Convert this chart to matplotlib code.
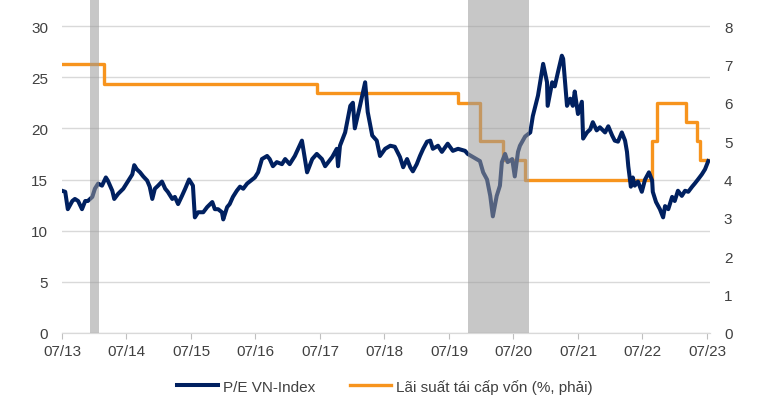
import matplotlib
matplotlib.use("Agg")
import matplotlib.pyplot as plt
from matplotlib.lines import Line2D

plt.rcParams['font.family'] = ['Liberation Sans', 'DejaVu Sans']

# P/E VN-Index, time as decimal year
pe_t = [2013.50, 2013.55, 2013.59, 2013.66, 2013.70, 2013.75, 2013.81, 2013.86, 2013.90, 2013.97,
        2014.01, 2014.06, 2014.12, 2014.18, 2014.21, 2014.28, 2014.31, 2014.37, 2014.45, 2014.52,
        2014.59, 2014.62, 2014.66, 2014.71, 2014.76, 2014.82, 2014.86, 2014.90, 2014.94, 2014.99,
        2015.05, 2015.10, 2015.14, 2015.21, 2015.25, 2015.30, 2015.36, 2015.41, 2015.47, 2015.53,
        2015.56, 2015.61, 2015.69, 2015.75, 2015.83, 2015.87, 2015.92, 2015.98, 2016.00, 2016.06,
        2016.10, 2016.15, 2016.21, 2016.26, 2016.31, 2016.37, 2016.45, 2016.49, 2016.54, 2016.60,
        2016.68, 2016.72, 2016.77, 2016.83, 2016.91, 2016.96, 2017.03, 2017.11, 2017.22, 2017.30,
        2017.38, 2017.45, 2017.53, 2017.58, 2017.69, 2017.76, 2017.78, 2017.81, 2017.89, 2017.97,
        2018.01, 2018.04, 2018.12, 2018.20, 2018.24, 2018.31, 2018.38, 2018.43, 2018.51, 2018.59,
        2018.66, 2018.74, 2018.79, 2018.85, 2018.90, 2018.94, 2019.00, 2019.05, 2019.10, 2019.16,
        2019.21, 2019.25, 2019.33, 2019.39, 2019.48, 2019.56, 2019.64, 2019.75, 2019.79, 2019.87,
        2019.98, 2020.03, 2020.09, 2020.14, 2020.18, 2020.24, 2020.29, 2020.32, 2020.37, 2020.41,
        2020.48, 2020.52, 2020.57, 2020.60, 2020.68, 2020.76, 2020.80, 2020.88, 2020.96, 2021.02,
        2021.03, 2021.10, 2021.14, 2021.19, 2021.25, 2021.27, 2021.33, 2021.38, 2021.42, 2021.45,
        2021.50, 2021.56, 2021.58, 2021.64, 2021.69, 2021.73, 2021.79, 2021.84, 2021.92, 2021.97,
        2022.03, 2022.07, 2022.12, 2022.18, 2022.23, 2022.26, 2022.28, 2022.32, 2022.35, 2022.38,
        2022.43, 2022.49, 2022.54, 2022.60, 2022.65, 2022.66, 2022.71, 2022.77, 2022.82, 2022.85,
        2022.90, 2022.96, 2023.00, 2023.05, 2023.11, 2023.16, 2023.21, 2023.27, 2023.31, 2023.36,
        2023.42, 2023.47, 2023.52]
pe_val = [13.9, 13.8, 12.1, 12.9, 13.1, 12.9, 12.1, 12.9, 12.9, 13.3,
          14.1, 14.6, 14.4, 15.2, 14.9, 13.9, 13.1, 13.6, 14.1, 14.8,
          15.5, 16.4, 16.0, 15.7, 15.3, 14.9, 14.3, 13.1, 14.1, 14.4,
          14.8, 14.1, 13.8, 13.1, 13.3, 12.6, 13.4, 14.1, 15.0, 14.4,
          11.3, 11.8, 11.8, 12.3, 12.8, 12.1, 12.1, 11.8, 11.1, 12.3,
          12.6, 13.3, 13.9, 14.3, 14.1, 14.6, 15.0, 15.2, 15.7, 17.0,
          17.3, 17.0, 16.3, 16.7, 16.5, 17.0, 16.5, 17.3, 18.8, 15.7,
          17.0, 17.5, 17.0, 16.3, 17.2, 18.0, 16.3, 18.3, 19.6, 22.2,
          22.5, 20.0, 22.2, 24.5, 21.6, 19.3, 18.8, 17.3, 18.0, 18.3,
          18.2, 17.2, 16.2, 17.0, 16.2, 15.8, 16.5, 17.3, 18.0, 18.7,
          18.8, 18.0, 18.3, 17.7, 18.5, 17.8, 18.0, 17.8, 17.5, 17.2,
          16.8, 15.7, 15.0, 13.4, 11.4, 13.4, 14.4, 16.7, 17.5, 16.7,
          17.0, 15.3, 17.7, 18.3, 19.2, 19.6, 21.2, 23.2, 26.3, 24.5,
          22.2, 24.5, 24.1, 25.5, 27.1, 26.8, 22.2, 22.9, 22.2, 23.6,
          21.4, 22.6, 19.0, 19.6, 19.9, 20.6, 19.8, 20.1, 19.6, 20.2,
          19.3, 18.8, 18.7, 19.6, 18.8, 17.7, 16.3, 14.3, 15.2, 14.4,
          14.8, 13.8, 15.0, 15.7, 14.9, 13.8, 12.8, 12.1, 11.3, 12.4,
          12.1, 13.3, 12.9, 13.9, 13.4, 13.9, 13.8, 14.3, 14.6, 15.0,
          15.5, 16.0, 16.8]

# Lai suat tai cap von (%), level from each change date
rate_t = [2013.50, 2014.15, 2017.45, 2019.64, 2019.98, 2020.34, 2020.68,
          2022.65, 2022.73, 2023.17, 2023.34, 2023.39, 2023.52]
rate_val = [7.0, 6.5, 6.25, 6.0, 5.0, 4.5, 4.0, 5.0, 6.0, 5.5, 5.0, 4.5, 4.5]

# vung to xam
shade_start = [2013.94, 2019.80]
shade_end = [2014.08, 2020.74]

xtick_pos = [2013.5, 2014.5, 2015.5, 2016.5, 2017.5, 2018.5, 2019.5, 2020.5, 2021.5, 2022.5, 2023.5]
xtick_lbl = ['07/13', '07/14', '07/15', '07/16', '07/17', '07/18', '07/19', '07/20', '07/21', '07/22', '07/23']

navy = '#002060'
orange = '#F7941D'
txt = '#404040'

fig = plt.figure(figsize=(7.65, 4.14), dpi=100)
ax = fig.add_axes([62 / 765, 80 / 414, 648 / 765, 334 / 414])
ax2 = ax.twinx()

ax.set_xlim(2013.5, 2023.547)
ax.set_ylim(0, 32.64)
ax2.set_ylim(0, 32.64 * 8 / 30)
ax.set_yticks(range(0, 31, 5))
ax2.set_yticks(range(0, 9))

ax.grid(axis='y', color='#d9d9d9', linewidth=1)
ax.set_axisbelow(True)

ax2.step(rate_t, rate_val, where='post', color=orange, linewidth=2.4, zorder=2)
# duong P/E ve tren duong lai suat, theo truc trai
ax2.plot(pe_t, pe_val, color=navy, linewidth=2.9, zorder=3, transform=ax.transData)
for s, e in zip(shade_start, shade_end):
    ax2.axvspan(s, e, color='#9a9a9a', alpha=0.55, linewidth=0, zorder=4)

ax.set_xticks(xtick_pos)
ax.set_xticklabels(xtick_lbl)
ax.tick_params(axis='x', direction='out', length=4, color='#bfbfbf', pad=4, labelsize=11, labelcolor=txt)
ax.tick_params(axis='y', length=0, pad=10, labelsize=11, labelcolor=txt)
ax2.tick_params(axis='y', length=0, pad=10, labelsize=11, labelcolor=txt)

for a in (ax, ax2):
    for side in ('top', 'left', 'right'):
        a.spines[side].set_visible(False)
    a.spines['bottom'].set_color('#d9d9d9')

handles = [Line2D([], [], color=navy, linewidth=2.9),
           Line2D([], [], color=orange, linewidth=2.4)]
fig.legend(handles, ['P/E VN-Index', 'Lãi suất tái cấp vốn (%, phải)'],
           loc='center', bbox_to_anchor=(0.503, 0.065), ncol=2, frameon=False,
           fontsize=11, handlelength=2.7, handletextpad=0.3, columnspacing=2.3,
           labelcolor=txt)

fig.savefig('out.png', dpi=100)
